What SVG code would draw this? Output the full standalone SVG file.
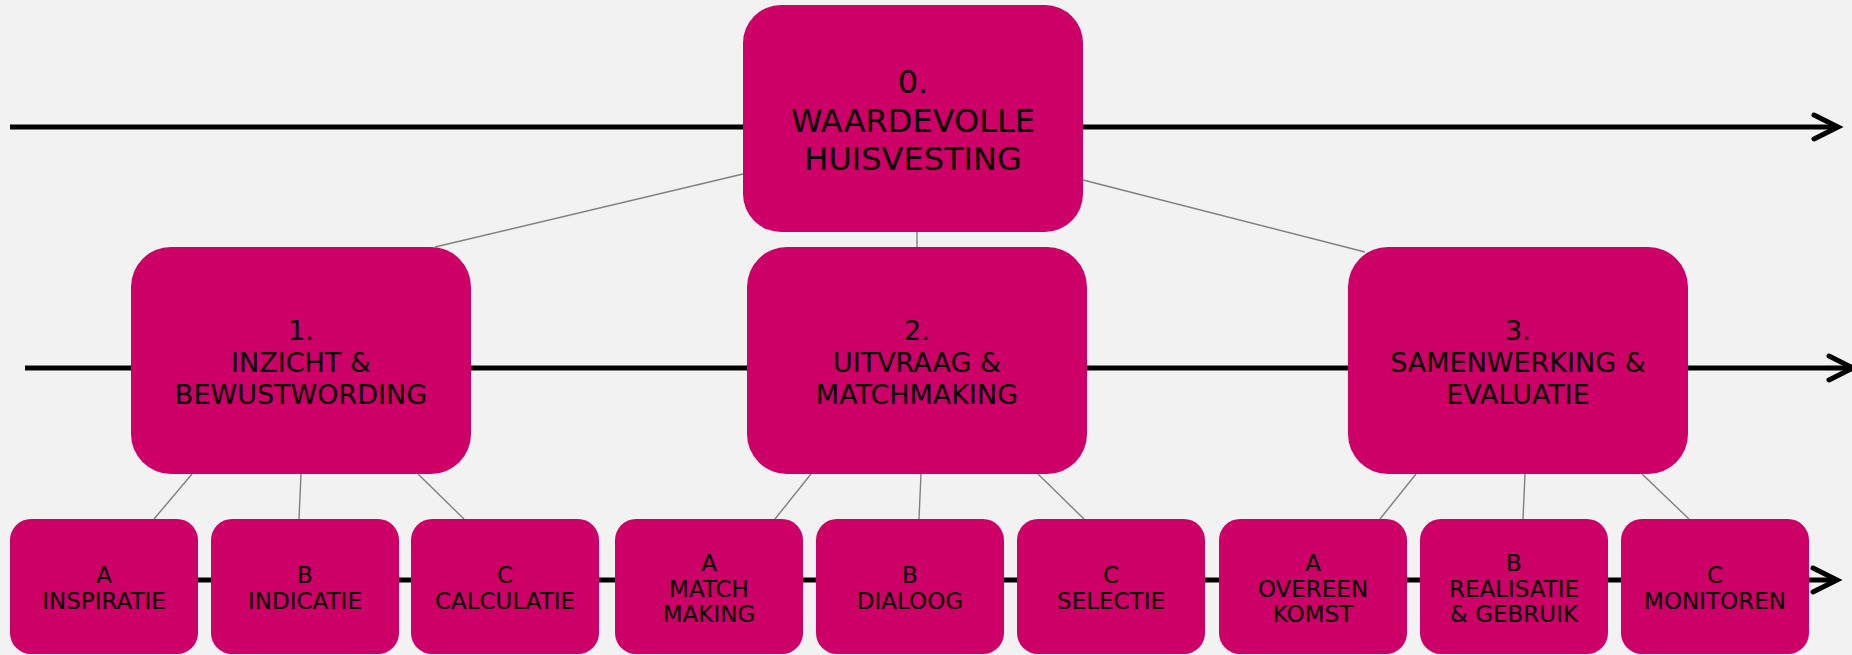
<svg xmlns="http://www.w3.org/2000/svg" width="1852" height="655" viewBox="0 0 1852 655">
  <style>
    .box { fill: #CC0066; }
    .axis { stroke: #000; stroke-width: 5; fill: none; }
    .head { stroke: #000; stroke-width: 5; fill: none; stroke-linecap: round; stroke-linejoin: miter; }
    .link { stroke: #808080; stroke-width: 1.4; fill: none; }
    text { font-family: "DejaVu Sans", Verdana, sans-serif; fill: #000; text-anchor: middle; }
    .t0 { font-size: 32px; }
    .t1 { font-size: 27px; }
    .t2 { font-size: 23px; }
  </style>
  <rect width="1852" height="655" fill="#F2F2F2"/>

  <!-- timeline axes with open arrowheads -->
  <g id="axes">
    <line class="axis" x1="10" y1="127" x2="1837" y2="127"/>
    <polyline class="head" points="1814,115 1838,127 1814,139"/>
    <line class="axis" x1="25" y1="368" x2="1850" y2="368"/>
    <polyline class="head" points="1829,356 1853,368 1829,380"/>
    <line class="axis" x1="10" y1="580" x2="1836" y2="580"/>
    <polyline class="head" points="1813,568 1837,580 1813,592"/>
  </g>

  <!-- hierarchy connectors -->
  <g id="connectors">
    <line class="link" x1="743" y1="174" x2="435" y2="247"/>
    <line class="link" x1="917" y1="232" x2="917" y2="247"/>
    <line class="link" x1="1083" y1="180" x2="1365" y2="252"/>
    <line class="link" x1="192" y1="474" x2="154" y2="519"/>
    <line class="link" x1="301" y1="474" x2="299" y2="519"/>
    <line class="link" x1="418" y1="474" x2="464" y2="519"/>
    <line class="link" x1="811" y1="474" x2="775" y2="519"/>
    <line class="link" x1="921" y1="474" x2="919" y2="519"/>
    <line class="link" x1="1038" y1="474" x2="1084" y2="519"/>
    <line class="link" x1="1416" y1="474" x2="1380" y2="519"/>
    <line class="link" x1="1525" y1="474" x2="1523" y2="519"/>
    <line class="link" x1="1642" y1="474" x2="1689" y2="519"/>
  </g>

  <g id="n0">
    <rect class="box" x="743" y="5" width="340" height="227" rx="38"/>
    <text class="t0" x="913" y="93">0.</text>
    <text class="t0" x="913" y="132">WAARDEVOLLE</text>
    <text class="t0" x="913" y="170">HUISVESTING</text>
  </g>

  <g id="n1">
    <rect class="box" x="131" y="247" width="340" height="227" rx="40"/>
    <text class="t1" x="301" y="340">1.</text>
    <text class="t1" x="301" y="372">INZICHT &amp;</text>
    <text class="t1" x="301" y="404">BEWUSTWORDING</text>
  </g>

  <g id="n2">
    <rect class="box" x="747" y="247" width="340" height="227" rx="40"/>
    <text class="t1" x="917" y="340">2.</text>
    <text class="t1" x="917" y="372">UITVRAAG &amp;</text>
    <text class="t1" x="917" y="404">MATCHMAKING</text>
  </g>

  <g id="n3">
    <rect class="box" x="1348" y="247" width="340" height="227" rx="40"/>
    <text class="t1" x="1518" y="340">3.</text>
    <text class="t1" x="1518" y="372">SAMENWERKING &amp;</text>
    <text class="t1" x="1518" y="404">EVALUATIE</text>
  </g>

  <g id="n1a">
    <rect class="box" x="10" y="519" width="188" height="135" rx="21"/>
    <text class="t2" x="104" y="583">A</text>
    <text class="t2" x="104" y="609">INSPIRATIE</text>
  </g>
  <g id="n1b">
    <rect class="box" x="211" y="519" width="188" height="135" rx="21"/>
    <text class="t2" x="305" y="583">B</text>
    <text class="t2" x="305" y="609">INDICATIE</text>
  </g>
  <g id="n1c">
    <rect class="box" x="411" y="519" width="188" height="135" rx="21"/>
    <text class="t2" x="505" y="583">C</text>
    <text class="t2" x="505" y="609">CALCULATIE</text>
  </g>

  <g id="n2a">
    <rect class="box" x="615" y="519" width="188" height="135" rx="21"/>
    <text class="t2" x="709" y="571">A</text>
    <text class="t2" x="709" y="596.5">MATCH</text>
    <text class="t2" x="709" y="622">MAKING</text>
  </g>
  <g id="n2b">
    <rect class="box" x="816" y="519" width="188" height="135" rx="21"/>
    <text class="t2" x="910" y="583">B</text>
    <text class="t2" x="910" y="609">DIALOOG</text>
  </g>
  <g id="n2c">
    <rect class="box" x="1017" y="519" width="188" height="135" rx="21"/>
    <text class="t2" x="1111" y="583">C</text>
    <text class="t2" x="1111" y="609">SELECTIE</text>
  </g>

  <g id="n3a">
    <rect class="box" x="1219" y="519" width="188" height="135" rx="21"/>
    <text class="t2" x="1313" y="571">A</text>
    <text class="t2" x="1313" y="596.5">OVEREEN</text>
    <text class="t2" x="1313" y="622">KOMST</text>
  </g>
  <g id="n3b">
    <rect class="box" x="1420" y="519" width="188" height="135" rx="21"/>
    <text class="t2" x="1514" y="571">B</text>
    <text class="t2" x="1514" y="596.5">REALISATIE</text>
    <text class="t2" x="1514" y="622">&amp; GEBRUIK</text>
  </g>
  <g id="n3c">
    <rect class="box" x="1621" y="519" width="188" height="135" rx="21"/>
    <text class="t2" x="1715" y="583">C</text>
    <text class="t2" x="1715" y="609">MONITOREN</text>
  </g>
</svg>
